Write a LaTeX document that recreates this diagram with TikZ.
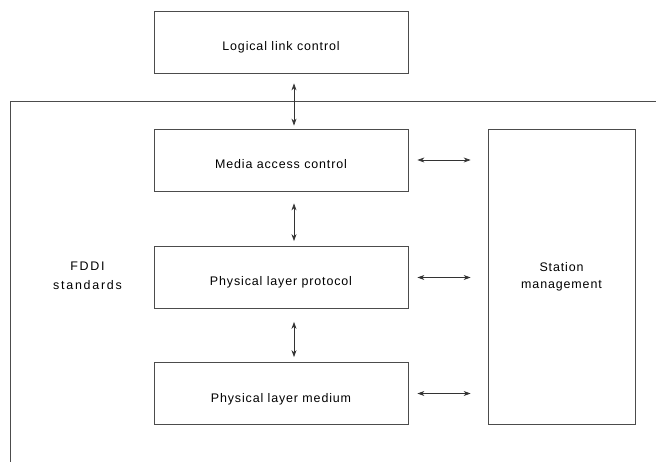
\documentclass[tikz,border=0pt]{standalone}
\usepackage{fontspec}
\setmainfont{Liberation Sans}[LetterSpace=7]
\newfontfamily\widefont{Liberation Sans}[LetterSpace=14]
\usetikzlibrary{arrows.meta}
\begin{document}
\begin{tikzpicture}[x=1bp,y=-1bp,
  frame/.style={draw=black!70, line width=0.8bp},
  box/.style={frame, minimum width=254bp, minimum height=62bp, font=\fontsize{12.5}{15}\selectfont, inner sep=0pt, text height=17bp, text depth=0bp},
  conn/.style={draw=black!80, line width=0.7bp, {Stealth[length=7bp,width=5bp]}-{Stealth[length=7bp,width=5bp]}},
  lbl/.style={font=\fontsize{12.5}{16.7}\selectfont, align=center}]
\useasboundingbox (0,0) rectangle (656,462);
\node[box] (llc) at (281,42) {Logical link control};
\node[box] (mac) at (281,160) {Media access control};
\node[box] (plp) at (281,277.5) {Physical layer protocol};
\node[box] (plm) at (281,393.5) {Physical layer medium};
\node[frame, minimum width=147bp, minimum height=295bp, inner sep=0pt, lbl] (sm) at (561.5,276.5) {\raisebox{-3.5bp}{\begin{tabular}{@{}c@{}}Station\\management\end{tabular}}};
\node[lbl, font=\fontsize{12.5}{19}\selectfont\widefont] (fddi) at (87.5,276) {FDDI\\standards};
\draw[frame] (656,101) -- (10,101) -- (10,462);
\draw[conn] ([yshift=-10bp]llc.south -| 294,0) -- ([yshift=3bp]mac.north -| 294,0);
\draw[conn] ([yshift=-12bp]mac.south -| 294,0) -- ([yshift=5bp]plp.north -| 294,0);
\draw[conn] ([yshift=-13bp]plp.south -| 294,0) -- ([yshift=5bp]plm.north -| 294,0);
\draw[conn] ([xshift=9bp]mac.east) -- ([xshift=-17bp]mac.east -| sm.west);
\draw[conn] ([xshift=9bp]plp.east) -- ([xshift=-17bp]plp.east -| sm.west);
\draw[conn] ([xshift=9bp]plm.east) -- ([xshift=-17bp]plm.east -| sm.west);
\end{tikzpicture}
\end{document}
